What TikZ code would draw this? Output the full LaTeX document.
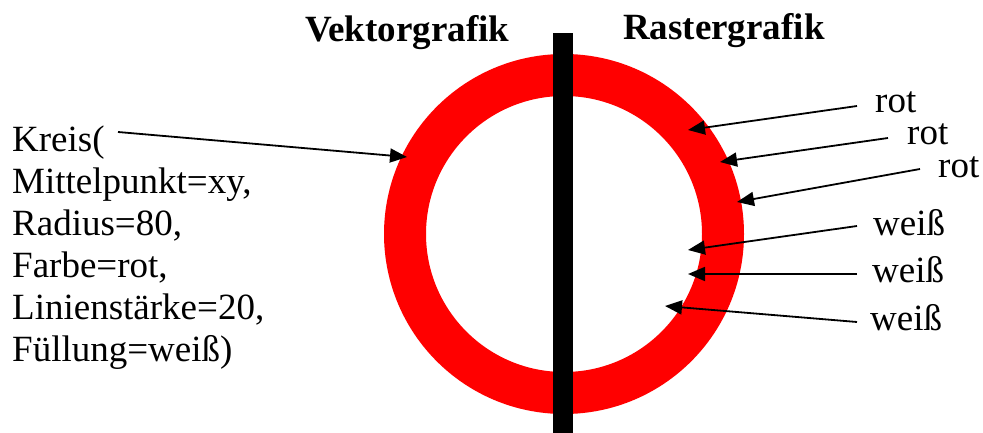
\documentclass[tikz,border=0pt]{standalone}
\usepackage{fontspec}
\setmainfont{Liberation Serif}
\usetikzlibrary{arrows.meta}
\begin{document}
\begin{tikzpicture}[x=1pt,y=-1pt,
  lbl/.style={font=\fontsize{37}{42}\selectfont, inner sep=0pt, anchor=base west},
  ttl/.style={font=\fontsize{37}{42}\selectfont\bfseries, inner sep=0pt, anchor=base west},
  arr/.style={line width=1.8pt, -{Triangle[length=17pt,width=14pt]}}]
\useasboundingbox (0,0) rectangle (983,433);
\draw[red, line width=42pt] (564,234) circle[radius=159];
\fill (553,33) rectangle (573,433);
\node[ttl] (vek) at (305,42) {Vektorgra\kern0pt f\kern0pt ik};
\node[ttl] (ras) at (623,40) {Rastergra\kern0pt f\kern0pt ik};
\node[lbl, align=left] (code) at (12,361) {Kreis(\\Mittelpunkt=xy,\\Radius=80,\\Farbe=rot,\\Linienstärke=20,\\Füllung=weiß)};
\node[lbl] (r1) at (875,113) {rot};
\node[lbl] (r2) at (907,145) {rot};
\node[lbl] (r3) at (938,178) {rot};
\node[lbl] (w1) at (873,235) {weiß};
\node[lbl] (w2) at (872,282) {weiß};
\node[lbl] (w3) at (870,330) {weiß};
\coordinate (t0) at (118,132); \coordinate (h0) at (407,157);
\coordinate (t1) at (857,106); \coordinate (h1) at (688,130);
\coordinate (t2) at (888,138); \coordinate (h2) at (720,162);
\coordinate (t3) at (920,169); \coordinate (h3) at (737,202);
\coordinate (t4) at (857,226); \coordinate (h4) at (688,250);
\coordinate (t5) at (857,274); \coordinate (h5) at (688,274);
\coordinate (t6) at (857,322); \coordinate (h6) at (665,306);
\draw[arr] (t0) -- (h0);
\draw[arr] (t1) -- (h1);
\draw[arr] (t2) -- (h2);
\draw[arr] (t3) -- (h3);
\draw[arr] (t4) -- (h4);
\draw[arr] (t5) -- (h5);
\draw[arr] (t6) -- (h6);
\end{tikzpicture}
\end{document}
